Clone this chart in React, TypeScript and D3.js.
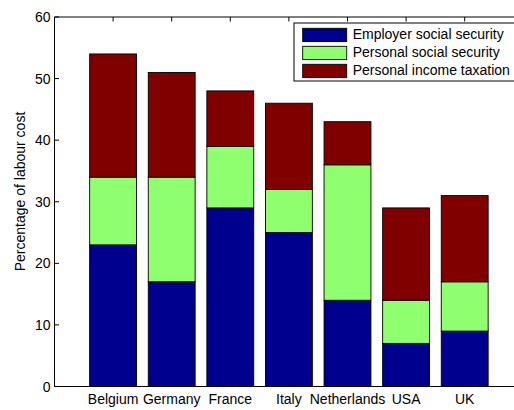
import React from "react";
import * as d3 from "d3";

const categories = ["Belgium", "Germany", "France", "Italy", "Netherlands", "USA", "UK"];
const employerSocial = [23, 17, 29, 25, 14, 7, 9];
const personalSocial = [11, 17, 10, 7, 22, 7, 8];
const incomeTax = [20, 17, 9, 14, 7, 15, 14];
const seriesNames = ["Employer social security", "Personal social security", "Personal income taxation"];
const seriesColors = ["#00008F", "#8FFF70", "#800000"];
const yTicks = [0, 10, 20, 30, 40, 50, 60];

const W = 514;
const H = 410;
const FONT = "'Liberation Sans', Arial, Helvetica, sans-serif";

export default function App() {
  const x = d3.scaleLinear().domain([0, 8]).range([54.5, 54.5 + 8 * 58.6]);
  const y = d3.scaleLinear().domain([0, 60]).range([386.5, 17]);
  const series = [employerSocial, personalSocial, incomeTax];
  const rows = categories.map((c, i) => ({
    cat: c,
    employer: employerSocial[i],
    personal: personalSocial[i],
    income: incomeTax[i],
  }));
  const stack = d3.stack<any>().keys(["employer", "personal", "income"])(rows);
  const barW = 0.8 * (x(1) - x(0));
  const x0 = x(0);
  const x1 = x(8);
  const tickLen = 4.5;

  return (
    <svg
      width={W}
      height={H}
      style={{ position: "absolute", left: 0, top: 0, background: "#fff" }}
      fontFamily={FONT}
    >
      <rect x={0} y={0} width={W} height={H} fill="#fff" />
      {/* bottom ticks (behind bars) */}
      {categories.map((c, i) => (
        <line key={"bt" + c} x1={x(i + 1)} x2={x(i + 1)} y1={y(0)} y2={y(0) - tickLen} stroke="#000" strokeWidth={1} />
      ))}
      {/* bars */}
      {stack.map((layer, si) => (
        <g key={"s" + si}>
          {layer.map((d, i) => (
            <rect
              key={i}
              x={x(i + 1) - barW / 2}
              y={y(d[1])}
              width={barW}
              height={y(d[0]) - y(d[1])}
              fill={seriesColors[si]}
              stroke="#000"
              strokeWidth={0.9}
            />
          ))}
        </g>
      ))}
      {/* axes box */}
      <line x1={x0} x2={x1} y1={y(0)} y2={y(0)} stroke="#000" strokeWidth={1} />
      <line x1={x0} x2={x1} y1={y(60)} y2={y(60)} stroke="#000" strokeWidth={1} />
      <line x1={x0} x2={x0} y1={y(0)} y2={y(60)} stroke="#000" strokeWidth={1} />
      <line x1={x1} x2={x1} y1={y(0)} y2={y(60)} stroke="#000" strokeWidth={1} />
      {/* y ticks */}
      {yTicks.map((t) => (
        <g key={"yt" + t}>
          <line x1={x0} x2={x0 + tickLen} y1={y(t)} y2={y(t)} stroke="#000" strokeWidth={1} />
          <line x1={x1} x2={x1 - tickLen} y1={y(t)} y2={y(t)} stroke="#000" strokeWidth={1} />
          <text x={x0 - 4} y={y(t)} dy="0.36em" textAnchor="end" fontSize={14} fill="#000">
            {t}
          </text>
        </g>
      ))}
      {/* top ticks + x labels */}
      {categories.map((c, i) => (
        <g key={"xt" + c}>
          <line x1={x(i + 1)} x2={x(i + 1)} y1={y(60)} y2={y(60) + tickLen} stroke="#000" strokeWidth={1} />
          <text x={x(i + 1)} y={404} textAnchor="middle" fontSize={14} fill="#000">
            {c}
          </text>
        </g>
      ))}
      {/* y label */}
      <text
        transform={`translate(25,191.5) rotate(-90)`}
        textAnchor="middle"
        fontSize={14}
        fill="#000"
      >
        Percentage of labour cost
      </text>
      {/* legend */}
      <g>
        <rect x={294} y={23} width={236} height={58} fill="#fff" stroke="#000" strokeWidth={1} />
        {seriesNames.map((n, i) => (
          <g key={"lg" + i}>
            <rect x={302.7} y={28.3 + i * 18} width={44} height={13.3} fill={seriesColors[i]} stroke="#000" strokeWidth={0.9} />
            <text x={352.7} y={39.4 + i * 18} fontSize={14} fill="#000">
              {n}
            </text>
          </g>
        ))}
      </g>
      {series.length === 0 ? null : null}
    </svg>
  );
}
